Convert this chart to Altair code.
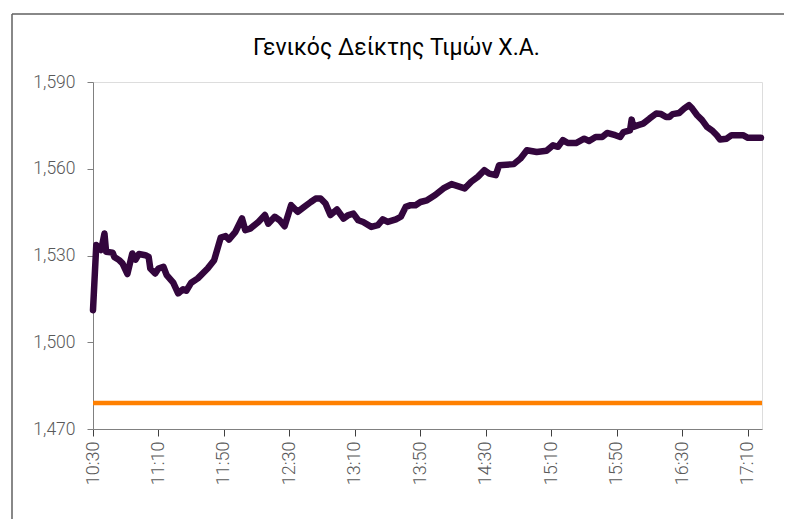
import altair as alt
import pandas as pd

title_text = ["Γενικός Δείκτης Τιμών Χ.Α."]

times = ["10:30", "10:32", "10:34", "10:35", "10:37", "10:38", "10:42", "10:43", "10:46", "10:48",
         "10:51", "10:54", "10:56", "10:58", "11:02", "11:04", "11:05", "11:08", "11:10", "11:13",
         "11:15", "11:19", "11:22", "11:25", "11:27", "11:30", "11:34", "11:40", "11:44", "11:48",
         "11:51", "11:53", "11:57", "12:01", "12:03", "12:06", "12:11", "12:15", "12:17", "12:21",
         "12:24", "12:27", "12:31", "12:35", "12:39", "12:43", "12:46", "12:49", "12:52", "12:55",
         "12:59", "13:03", "13:06", "13:09", "13:12", "13:15", "13:20", "13:24", "13:27", "13:30",
         "13:35", "13:38", "13:41", "13:44", "13:47", "13:50", "13:54", "13:59", "14:04", "14:09",
         "14:17", "14:21", "14:25", "14:29", "14:32", "14:36", "14:38", "14:47", "14:51", "14:55",
         "15:01", "15:07", "15:11", "15:14", "15:17", "15:20", "15:25", "15:30", "15:33", "15:37",
         "15:41", "15:44", "15:49", "15:52", "15:54", "15:58", "15:59", "16:00", "16:03", "16:06",
         "16:10", "16:14", "16:17", "16:20", "16:22", "16:24", "16:28", "16:31", "16:34", "16:36",
         "16:39", "16:42", "16:45", "16:48", "16:51", "16:53", "16:57", "17:00", "17:07", "17:10",
         "17:18"]

index_values = [1511.1, 1533.6, 1532.5, 1531.9, 1537.6, 1531.3, 1531.0, 1529.5, 1528.4, 1527.3,
                1523.6, 1530.7, 1528.6, 1530.5, 1530.1, 1529.5, 1525.5, 1523.8, 1525.5, 1526.1,
                1523.2, 1520.6, 1516.9, 1518.3, 1517.8, 1520.6, 1522.1, 1525.5, 1528.4, 1536.2,
                1536.7, 1535.5, 1538.2, 1542.8, 1538.8, 1539.3, 1541.6, 1544.0, 1541.0, 1543.4,
                1542.2, 1540.1, 1547.4, 1545.1, 1546.8, 1548.5, 1549.7, 1549.7, 1548.0, 1544.0,
                1545.9, 1542.8, 1544.0, 1544.5, 1542.2, 1541.6, 1539.9, 1540.5, 1542.5, 1541.6,
                1542.5, 1543.4, 1546.8, 1547.4, 1547.4, 1548.5, 1549.1, 1550.9, 1553.2, 1554.7,
                1553.2, 1555.5, 1557.2, 1559.5, 1558.3, 1557.8, 1561.2, 1561.6, 1563.5, 1566.4,
                1565.8, 1566.2, 1568.1, 1567.6, 1569.9, 1568.9, 1568.9, 1570.4, 1569.6, 1571.0,
                1571.0, 1572.4, 1571.6, 1571.0, 1572.7, 1573.3, 1577.0, 1574.5, 1575.1, 1575.6,
                1577.4, 1579.1, 1578.9, 1577.9, 1577.9, 1578.9, 1579.3, 1580.8, 1582.0, 1580.8,
                1578.5, 1576.8, 1574.5, 1573.3, 1571.6, 1570.1, 1570.4, 1571.6, 1571.6, 1570.7,
                1570.7]

reference_level = [1479.0]

y_ticks = [1470, 1500, 1530, 1560, 1590]
x_tick_labels = ["10:30", "11:10", "11:50", "12:30", "13:10", "13:50", "14:30", "15:10", "15:50", "16:30", "17:10"]


def to_minutes(t):
    h, m = t.split(":")
    return int(h) * 60 + int(m) - 630


df = pd.DataFrame({"t": [to_minutes(t) for t in times], "v": index_values})
ref_df = pd.DataFrame({"r": reference_level})
title_df = pd.DataFrame({"label": title_text})

x_vals = [to_minutes(t) for t in x_tick_labels]
label_expr = ("floor((datum.value+630)/60) + ':' + "
              "(((datum.value+630)%60) < 10 ? '0' : '') + ((datum.value+630)%60)")

font = "Roboto"

x_enc = alt.X("t:Q", scale=alt.Scale(domain=[0, 408.6], nice=False, zero=False),
              axis=alt.Axis(values=x_vals, labelExpr=label_expr, labelAngle=-90, title=None,
                            grid=False, tickSize=7, labelPadding=5, domainColor="#808080",
                            tickColor="#404040", labelColor="#595959", labelFont=font,
                            labelFontSize=18, labelFontWeight=300))
y_enc = alt.Y("v:Q", scale=alt.Scale(domain=[1470, 1590], nice=False, zero=False),
              axis=alt.Axis(values=y_ticks, format=",d", title=None, grid=False, tickSize=6,
                            labelPadding=12, domainColor="#808080", tickColor="#808080",
                            labelColor="#595959", labelFont=font, labelFontSize=17.5,
                            labelFontWeight=300))

line = alt.Chart(df).mark_line(color="#33063d", strokeWidth=6.5, strokeJoin="round",
                               strokeCap="round").encode(x=x_enc, y=y_enc)

ref = alt.Chart(ref_df).mark_rule(color="#ff8000", strokeWidth=4.5).encode(y=alt.Y("r:Q"))

frame_top = alt.Chart(ref_df).mark_rule(color="#606060", strokeWidth=1.5, clip=False).encode(
    x=alt.value(-81), x2=alt.value(760), y=alt.value(-68))
frame_left = alt.Chart(ref_df).mark_rule(color="#606060", strokeWidth=1.5, clip=False).encode(
    x=alt.value(-81), y=alt.value(-68), y2=alt.value(600))

title = alt.Chart(title_df).mark_text(font=font, fontSize=23, color="#000000", align="center",
                                      baseline="alphabetic", clip=False).encode(
    text="label:N", x=alt.value(303.4), y=alt.value(-27))

chart = alt.layer(frame_top, frame_left, ref, line, title).properties(
    width=669, height=347,
    autosize=alt.AutoSizeParams(type="none"),
    padding={"left": 85, "top": 74, "right": 22, "bottom": 90},
).configure_view(stroke="#c8c8c8", strokeWidth=1).configure(background="white")

chart.save("out.html", embed_options={"renderer": "svg", "actions": False})
